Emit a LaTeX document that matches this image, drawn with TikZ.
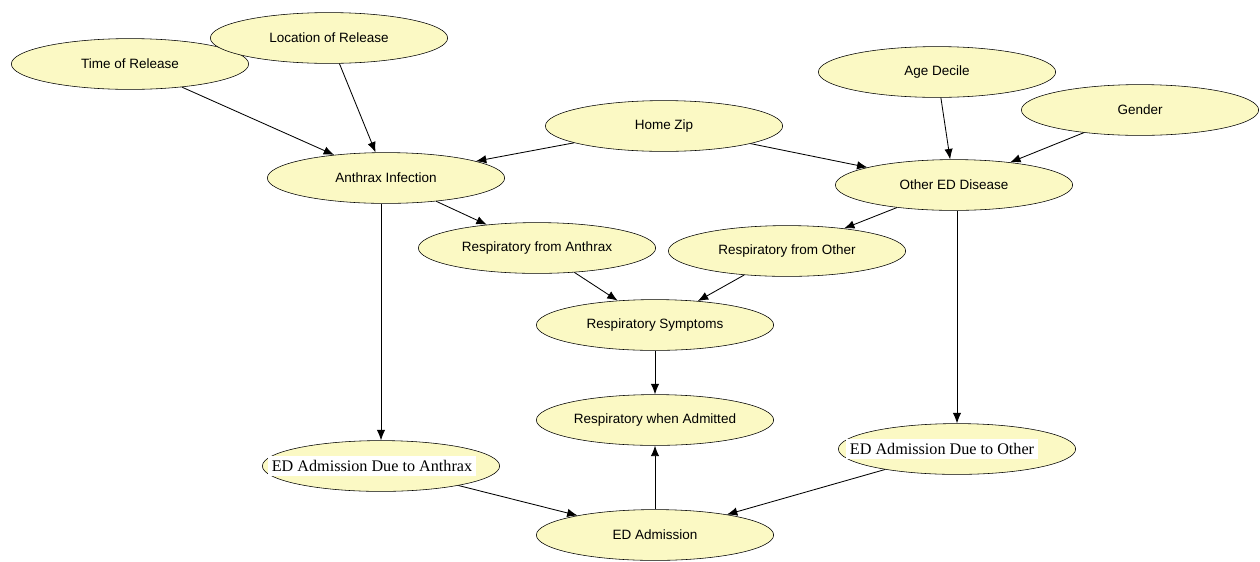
\documentclass[tikz,border=0pt]{standalone}
\usepackage{fontspec}
\setmainfont{Liberation Serif}
\setsansfont{Liberation Sans}
\usetikzlibrary{arrows.meta,shapes}
\definecolor{nodefill}{RGB}{251,249,196}
\newcommand{\whitelabel}[2]{\makebox[0pt]{\colorbox{white}{#2}\hspace*{#1}}}
\tikzstyle{bnode}=[ellipse,draw=black,fill=nodefill,thin,minimum width=5.93cm,minimum height=1.27cm,inner sep=1pt,font=\sffamily\fontsize{9.6}{11}\selectfont]
\tikzstyle{bnote}=[bnode,font=\rmfamily\fontsize{11.5}{13}\selectfont]
\tikzstyle{bnet}=[-{Latex[length=2.6mm,width=2.1mm]}, line width=0.6pt]

\begin{document}
\begin{tikzpicture}[bnet,x=0.025cm,y=-0.025cm]
\useasboundingbox (0,0) rectangle (1260,561);
\node[bnode] (TR) at (130,64) {Time of Release};
\node[bnode] (LR) at (329,38) {Location of Release};
\node[bnode] (AI) at (386,178) {Anthrax Infection};
\node[bnode] (HZ) at (664,126) {Home Zip};
\node[bnode] (AD) at (937,72) {Age Decile};
\node[bnode] (G) at (1140,110) {Gender};
\node[bnode] (OD) at (954,185) {Other ED Disease};
\node[bnode] (RA) at (537,248) {Respiratory from Anthrax};
\node[bnode] (RO) at (787,251) {Respiratory from Other};
\node[bnode] (RS) at (655,325) {Respiratory Symptoms};
\node[bnode] (RW) at (655,420) {Respiratory when Admitted};
\node[bnote] (EA) at (381,466) {\whitelabel{0.45cm}{ED Admission Due to Anthrax}};
\node[bnote] (EO) at (957,449) {\whitelabel{0.75cm}{ED Admission Due to Other}};
\node[bnode] (ED) at (655,535) {ED Admission};
\draw(TR)--(AI);\draw(LR)--(AI);\draw(HZ)--(AI);\draw(HZ)--(OD);\draw(AD)--(OD);\draw(G)--(OD);
\draw(AI)--(RA);\draw(OD)--(RO);\draw(RA)--(RS);\draw(RO)--(RS);\draw(RS)--(RW);
\draw(AI.south -| EA.north)--(EA);\draw(OD.south -| EO.north)--(EO);
\draw(EA)--(ED);\draw(EO)--(ED);\draw(ED)--(RW);
\end{tikzpicture}
\end{document}
